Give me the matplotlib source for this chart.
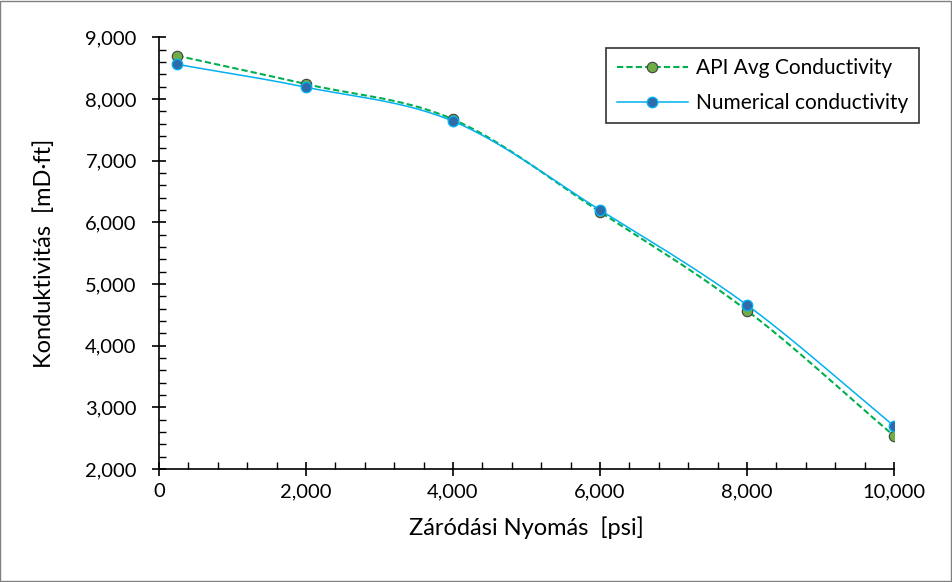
import numpy as np
import matplotlib.pyplot as plt
from matplotlib.ticker import FuncFormatter, MultipleLocator

plt.rcParams['font.family'] = ['Lato', 'DejaVu Sans']

# data
pressure = [250, 2000, 4000, 6000, 8000, 10000]
api_avg = [8700, 8240, 7670, 6170, 4570, 2540]
numerical = [8560, 8190, 7640, 6200, 4660, 2700]


def smooth(x, y, n=30):
    # Catmull-Rom style smoothing, similar to Excel's smoothed lines
    x = np.asarray(x, float)
    y = np.asarray(y, float)
    px = np.concatenate([[2 * x[0] - x[1]], x, [2 * x[-1] - x[-2]]])
    py = np.concatenate([[2 * y[0] - y[1]], y, [2 * y[-1] - y[-2]]])
    xs, ys = [], []
    t = np.linspace(0, 1, n)
    for i in range(1, len(px) - 2):
        for arr, out in ((px, xs), (py, ys)):
            p0, p1, p2, p3 = arr[i - 1], arr[i], arr[i + 1], arr[i + 2]
            out.extend(0.5 * ((2 * p1) + (-p0 + p2) * t
                              + (2 * p0 - 5 * p1 + 4 * p2 - p3) * t ** 2
                              + (-p0 + 3 * p1 - 3 * p2 + p3) * t ** 3))
    return xs, ys


fig = plt.figure(figsize=(9.52, 5.82), dpi=100)
fig.patches.append(plt.Rectangle((0.0005, 0.001), 0.998, 0.997, transform=fig.transFigure,
                                 fill=False, edgecolor='#808080', linewidth=1))
ax = fig.add_axes([0.167, 0.194, 0.772, 0.742])

sx, sy = smooth(pressure, api_avg)
ax.plot(sx, sy, color='#00B050', linestyle=(0, (3, 1.5)), linewidth=1.5, zorder=2)
ax.plot(pressure, api_avg, linestyle='none', marker='o', markersize=7.5,
        markerfacecolor='#70AD47', markeredgecolor='#404040', markeredgewidth=0.8, zorder=3)
sx, sy = smooth(pressure, numerical)
ax.plot(sx, sy, color='#00B0F0', linewidth=1.1, zorder=4)
ax.plot(pressure, numerical, linestyle='none', marker='o', markersize=7.5,
        markerfacecolor='#2E6BA8', markeredgecolor='#00B0F0', markeredgewidth=1.0, zorder=5)

# legend proxies
l1, = ax.plot([], [], color='#00B050', linestyle=(0, (3, 1.5)), linewidth=1.5, marker='o',
              markersize=7.5, markerfacecolor='#70AD47', markeredgecolor='#404040', markeredgewidth=0.8)
l2, = ax.plot([], [], color='#00B0F0', linewidth=1.1, marker='o', markersize=7.5,
              markerfacecolor='#2E6BA8', markeredgecolor='#00B0F0', markeredgewidth=1.0)
leg = ax.legend([l1, l2], ['API Avg Conductivity', 'Numerical conductivity'],
                loc='upper right', bbox_to_anchor=(1.042, 0.99), fontsize=15, frameon=True,
                fancybox=False, edgecolor='black', handlelength=3.4, borderpad=0.5,
                labelspacing=0.7, handletextpad=0.4, borderaxespad=0.3)
leg.get_frame().set_linewidth(1.2)

ax.set_xlim(0, 10000)
ax.set_ylim(2000, 9000)
ax.xaxis.set_major_locator(MultipleLocator(2000))
ax.xaxis.set_minor_locator(MultipleLocator(400))
ax.yaxis.set_major_locator(MultipleLocator(1000))
ax.yaxis.set_minor_locator(MultipleLocator(200))
fmt = FuncFormatter(lambda v, p: f'{int(v):,}')
ax.xaxis.set_major_formatter(fmt)
ax.yaxis.set_major_formatter(fmt)
ax.tick_params(which='major', direction='inout', length=10, width=1.2, labelsize=14.5)
ax.tick_params(axis='x', which='major', pad=5)
ax.tick_params(axis='y', which='major', pad=11)
ax.tick_params(which='minor', direction='in', length=5, width=1.0)

for s in ('top', 'right'):
    ax.spines[s].set_visible(False)
for s in ('left', 'bottom'):
    ax.spines[s].set_linewidth(1.2)

ax.set_xlabel('Záródási Nyomás  [psi]', fontsize=17, labelpad=12)
ax.set_ylabel('Konduktivitás  [mD·ft]', fontsize=17, labelpad=22)

fig.savefig('out.png', dpi=100)
